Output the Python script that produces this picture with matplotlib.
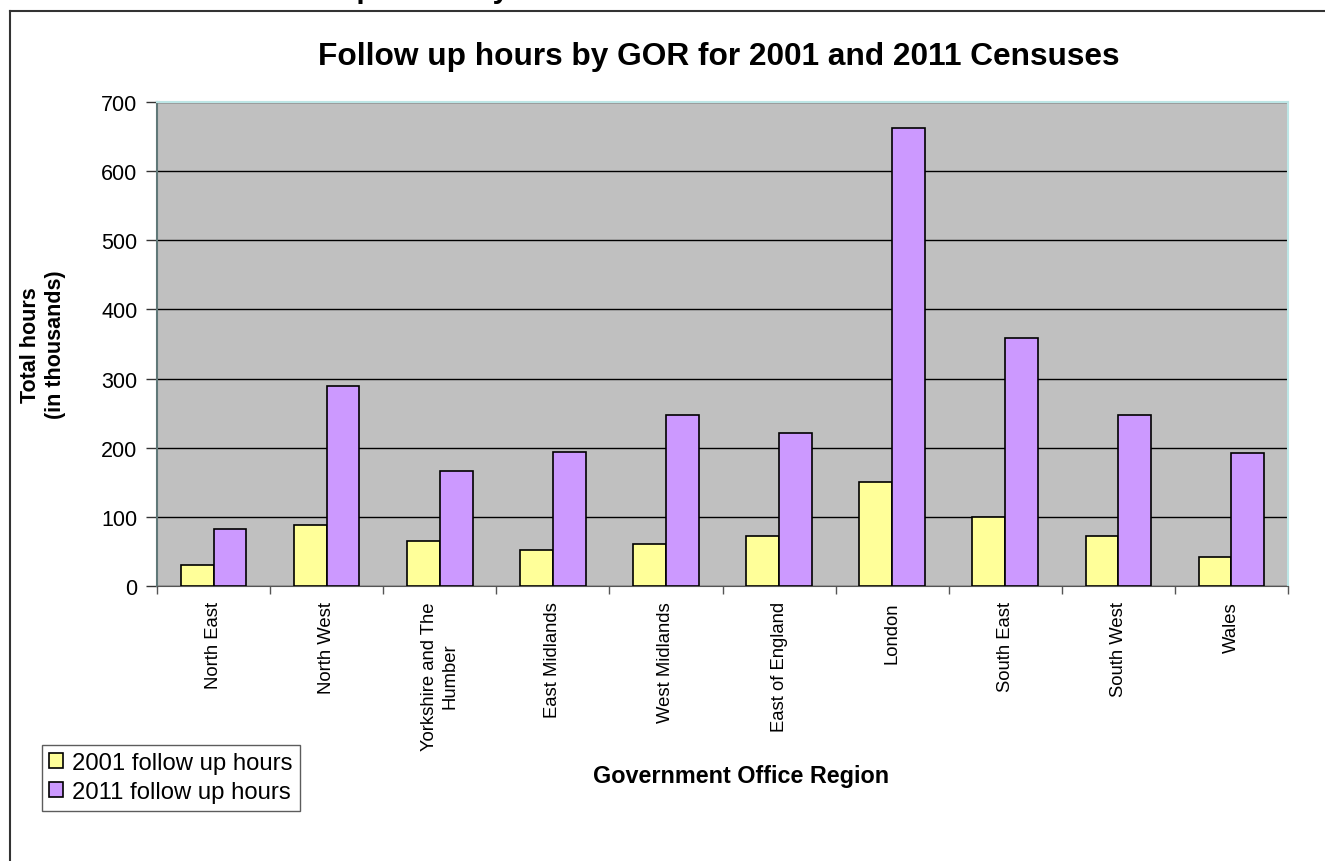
import numpy as np
import matplotlib
matplotlib.use('Agg')
import matplotlib.pyplot as plt
from matplotlib.lines import Line2D

# data (thousands of hours)
regions = ['North East', 'North West', 'Yorkshire and The\nHumber', 'East Midlands',
           'West Midlands', 'East of England', 'London', 'South East',
           'South West', 'Wales']
hours_2001 = [30, 88, 65, 52, 61, 72, 151, 100, 72, 42]
hours_2011 = [83, 289, 167, 194, 248, 221, 662, 359, 248, 193]
series_names = ['2001 follow up hours', '2011 follow up hours']
y_ticks = [0, 100, 200, 300, 400, 500, 600, 700]

plt.rcParams['font.family'] = ['Liberation Sans', 'DejaVu Sans']

W, H = 1325, 862
fig = plt.figure(figsize=(W / 100, H / 100), dpi=100)

#outer chart frame, clipped at right and bottom
fig.add_artist(Line2D([10 / W, 10 / W], [0, 1 - 12 / H], color='#333333', lw=1.5))
fig.add_artist(Line2D([10 / W, 1], [1 - 12 / H, 1 - 12 / H], color='#333333', lw=1.5))

#heading of the page, mostly cut off at the top (as in the reference)
fig.text(235 / W, 1 + 1.5 / H, 'Follow up hours by GOR', fontsize=21.5,
         fontweight='bold', ha='left', va='baseline')

#plot area
x0, x1, y0, y1 = 157, 1288, 103, 587
ax = fig.add_axes([x0 / W, 1 - y1 / H, (x1 - x0) / W, (y1 - y0) / H])
ax.set_facecolor('#C0C0C0')

x = np.arange(len(regions))
w = 0.29
ax.bar(x - w / 2, hours_2001, w, color='#FFFF99', edgecolor='black', lw=1.2,
       label=series_names[0], zorder=3)
ax.bar(x + w / 2, hours_2011, w, color='#CC99FF', edgecolor='black', lw=1.2,
       label=series_names[1], zorder=3)

ax.set_xlim(-0.5, len(regions) - 0.5)
ax.set_ylim(0, 700)
ax.set_yticks(y_ticks)
ax.yaxis.grid(True, color='black', lw=1.0, zorder=1)
ax.set_axisbelow(True)

#category labels at centres, tick marks at boundaries
ax.set_xticks(x)
ax.set_xticklabels(regions, rotation=90, fontsize=13.3, va='top', ha='center',
                   multialignment='center')
ax.set_xticks(np.arange(len(regions) + 1) - 0.5, minor=True)
ax.tick_params(axis='x', which='major', length=0, pad=11)
ax.tick_params(axis='x', which='minor', length=6, color='#555555', width=1)
ax.tick_params(axis='y', length=8, color='#333333', width=1, pad=6, labelsize=15.5)

ax.spines['left'].set_color('#607878')
ax.spines['left'].set_linewidth(1.5)
ax.spines['bottom'].set_color('#555555')
ax.spines['top'].set_color('#BDE6E6')
ax.spines['right'].set_color('#BDE6E6')
ax.spines['top'].set_linewidth(1.5)
ax.spines['right'].set_linewidth(1.5)

#titles
fig.text(719 / W, 1 - 57 / H, 'Follow up hours by GOR for 2001 and 2011 Censuses',
         fontsize=22.8, fontweight='bold', ha='center', va='center')
fig.text(43 / W, 1 - 345 / H, 'Total hours\n(in thousands)', fontsize=15.5,
         fontweight='bold', rotation=90, ha='center', va='center',
         multialignment='center', linespacing=1.3)
fig.text(741 / W, 1 - 777 / H, 'Government Office Region', fontsize=16.8,
         fontweight='bold', ha='center', va='center')

#legend
leg = fig.legend(loc='upper left', bbox_to_anchor=(42 / W, 1 - 746 / H),
                 fontsize=17.2, frameon=True, fancybox=False, shadow=False,
                 borderaxespad=0, handlelength=0.6, handleheight=0.6,
                 handletextpad=0.35, labelspacing=0.3, borderpad=0.3)
leg.get_frame().set_edgecolor('#333333')
leg.get_frame().set_linewidth(1.0)

fig.savefig('out.png', dpi=100)
